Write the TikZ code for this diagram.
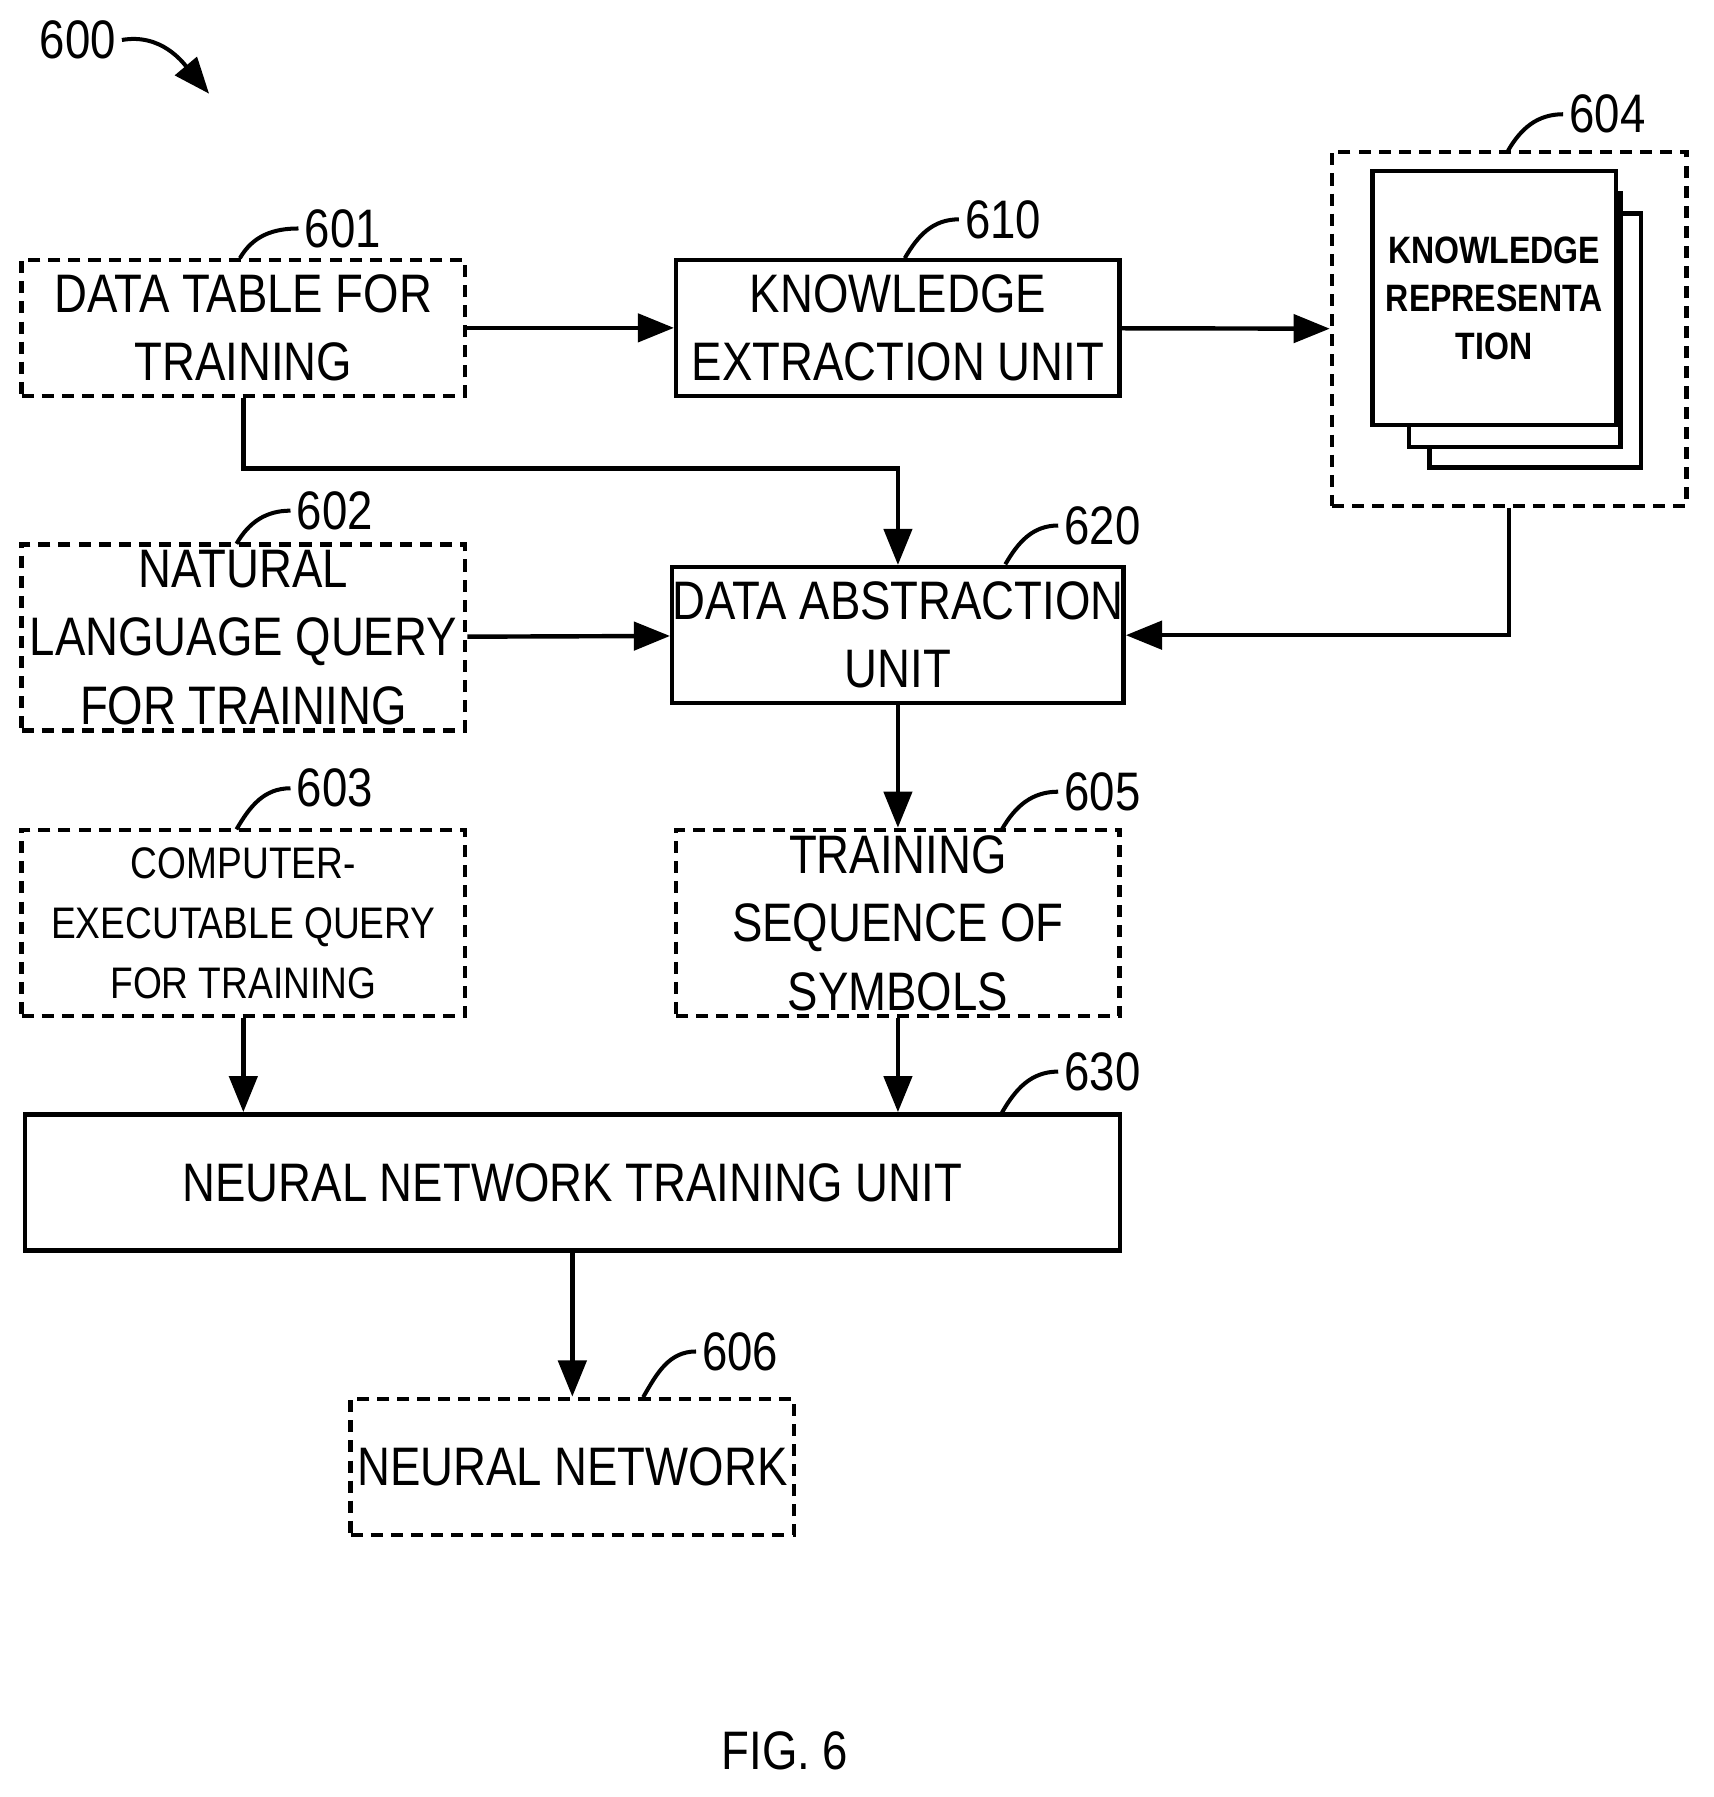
\documentclass[tikz,border=0pt]{standalone}
\usepackage{fontspec}
\setmainfont[FakeStretch=0.84]{Liberation Sans}
\usetikzlibrary{arrows.meta,positioning}
\begin{document}
\begin{tikzpicture}[x=0.01cm,y=-0.01cm,
  >={Triangle[length=9pt,width=7pt]},line width=1.1pt,
  blk/.style={draw,rectangle,minimum width=388\pgflinewidth*0+3.88cm,minimum height=1.19cm,align=center,font=\fontsize{13.5}{17}\selectfont,inner sep=0pt},
  dblk/.style={blk,dash pattern=on 3pt off 2pt},
  page/.style={draw,fill=white,minimum width=1.85cm,minimum height=2.22cm},
  num/.style={font=\fontsize{13.5}{16}\selectfont,inner sep=1pt}]
  \useasboundingbox (0,0) rectangle (1500,1573);
  % boxes
  \node[dblk] (b601) at (213,287) {DATA TABLE FOR\\TRAINING};
  \node[blk] (b610) at (786,287) {KNOWLEDGE\\EXTRACTION UNIT};
  \node[dblk,minimum height=1.63cm] (b602) at (213,558) {NATURAL\\LANGUAGE QUERY\\FOR TRAINING};
  \node[blk] (b620) at (786,556) {DATA ABSTRACTION\\UNIT};
  \node[dblk,minimum height=1.63cm,font=\fontsize{11}{15}\selectfont] (b603) at (213,808) {COMPUTER-\\EXECUTABLE QUERY\\FOR TRAINING};
  \node[dblk,minimum height=1.63cm] (b605) at (786,808) {TRAINING\\SEQUENCE OF\\SYMBOLS};
  \node[blk,minimum width=9.58cm] (b630) at (501,1035) {NEURAL NETWORK TRAINING UNIT};
  \node[dblk] (b606) at (501,1284) {NEURAL NETWORK};
  % knowledge representation
  \node[dblk,minimum width=3.1cm,minimum height=3.1cm] (b604) at (1321,288) {};
  \node[page] (p3) at (1344,298) {};
  \node[page] (p2) at (1326,280) {};
  \node[page,font=\fontsize{9.5}{12}\selectfont\bfseries,align=center] (p1) at (1308,261) {KNOWLEDGE\\REPRESENTA\\TION};
  % numbers
  \node[num] (n600) at (68,35) {600};
  \node[num] (n601) at (300,200) {601};
  \node[num] (n610) at (878,192) {610};
  \node[num] (n604) at (1407,100) {604};
  \node[num] (n602) at (293,447) {602};
  \node[num] (n620) at (965,460) {620};
  \node[num] (n603) at (293,690) {603};
  \node[num] (n605) at (965,693) {605};
  \node[num] (n630) at (965,938) {630};
  \node[num] (n606) at (648,1183) {606};
  \node[font=\fontsize{13.5}{16}\selectfont] (fig) at (687,1533) {FIG. 6};
  % leaders
  \begin{scope}[line width=1pt]
  \draw (n601.west) to[out=180,in=60] (210,226);
  \draw (n610.west) to[out=180,in=60] (792,226);
  \draw (n604.west) to[out=180,in=60] (1320,132);
  \draw (n602.west) to[out=180,in=60] (207,476);
  \draw (n620.west) to[out=180,in=60] (880,494);
  \draw (n603.west) to[out=180,in=60] (207,726);
  \draw (n605.west) to[out=180,in=60] (877,726);
  \draw (n630.west) to[out=180,in=60] (877,974);
  \draw (n606.west) to[out=180,in=60] (563,1223);
  \draw[->] (n600.east) to[out=10,in=130] (183,82);
  \end{scope}
  % connectors
  \draw[->] (b601) -- (b610);
  \draw[->] (b610) -- (b604);
  \draw[->] (b601.south) |- (786,410) -- (b620.north);
  \draw[->] (b602) -- (b620);
  \draw[->] (b604.south) |- (b620.east);
  \draw[->] (b620) -- (b605);
  \draw[->] (b603.south) -- (b603.south |- b630.north);
  \draw[->] (b605) -- (b605 |- b630.north);
  \draw[->] (b630) -- (b606);
\end{tikzpicture}
\end{document}
